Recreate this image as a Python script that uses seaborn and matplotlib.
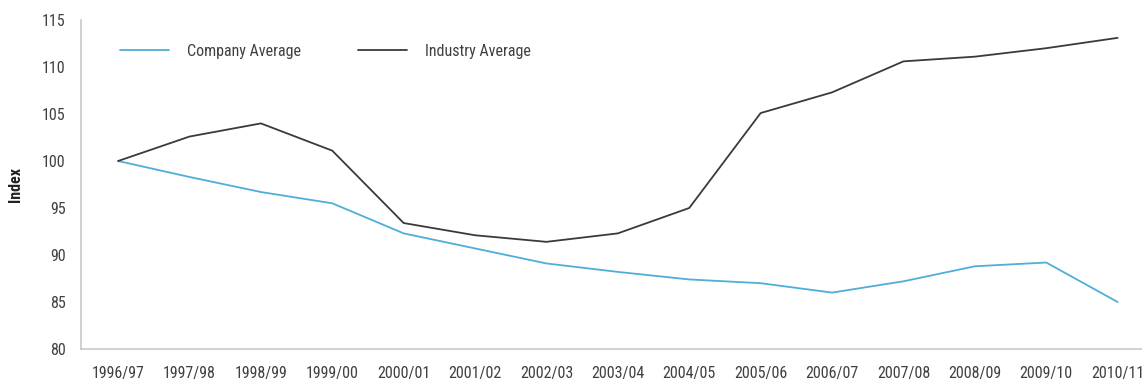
import matplotlib
matplotlib.use("Agg")
import matplotlib.pyplot as plt
import seaborn as sns
import pandas as pd

years = ["1996/97", "1997/98", "1998/99", "1999/00", "2000/01", "2001/02", "2002/03",
         "2003/04", "2004/05", "2005/06", "2006/07", "2007/08", "2008/09", "2009/10", "2010/11"]
company = [100.0, 98.3, 96.7, 95.5, 92.3, 90.7, 89.1, 88.2, 87.4, 87.0, 86.0, 87.2, 88.8, 89.2, 85.0]
industry = [100.0, 102.6, 104.0, 101.1, 93.4, 92.1, 91.4, 92.3, 95.0, 105.1, 107.3, 110.6, 111.1, 112.0, 113.1]
series_names = ["Company Average", "Industry Average"]
colors = ["#4eaed8", "#3a3a3a"]

sns.set_style("white")
plt.rcParams["font.family"] = ["Roboto Condensed", "DejaVu Sans"]

df = pd.DataFrame({
    "x": list(range(len(years))) * 2,
    "value": company + industry,
    "series": [series_names[0]] * len(years) + [series_names[1]] * len(years),
})

fig = plt.figure(figsize=(11.42, 3.81), dpi=100)
ax = fig.add_axes([0.0709, 0.084, 0.929, 0.8635])
sns.lineplot(data=df, x="x", y="value", hue="series", palette=colors, ax=ax, linewidth=1.3)

ax.set_xlim(-0.52, 14.34)
ax.set_ylim(80, 115)
ax.set_yticks(range(80, 116, 5))
ax.set_xticks(range(len(years)))
ax.set_xticklabels(years)
ax.tick_params(axis="both", length=0, labelsize=11.5, labelcolor="#404040")
ax.tick_params(axis="x", pad=12)
ax.tick_params(axis="y", pad=11)
ax.set_xlabel("")
ax.set_ylabel("Index", fontsize=11.5, fontweight="bold", color="#222222", labelpad=14)
for s in ["top", "right"]:
    ax.spines[s].set_visible(False)
for s in ["left", "bottom"]:
    ax.spines[s].set_color("#c8c8c8")
    ax.spines[s].set_linewidth(1.2)

leg = ax.legend(loc="upper left", bbox_to_anchor=(0.023, 0.972), ncol=2, frameon=False,
                handlelength=3.1, handletextpad=1.1, columnspacing=3.55, fontsize=11.5)
for t in leg.get_texts():
    t.set_color("#404040")
for l in leg.get_lines():
    l.set_linewidth(1.3)

fig.savefig("out.png", dpi=100)
